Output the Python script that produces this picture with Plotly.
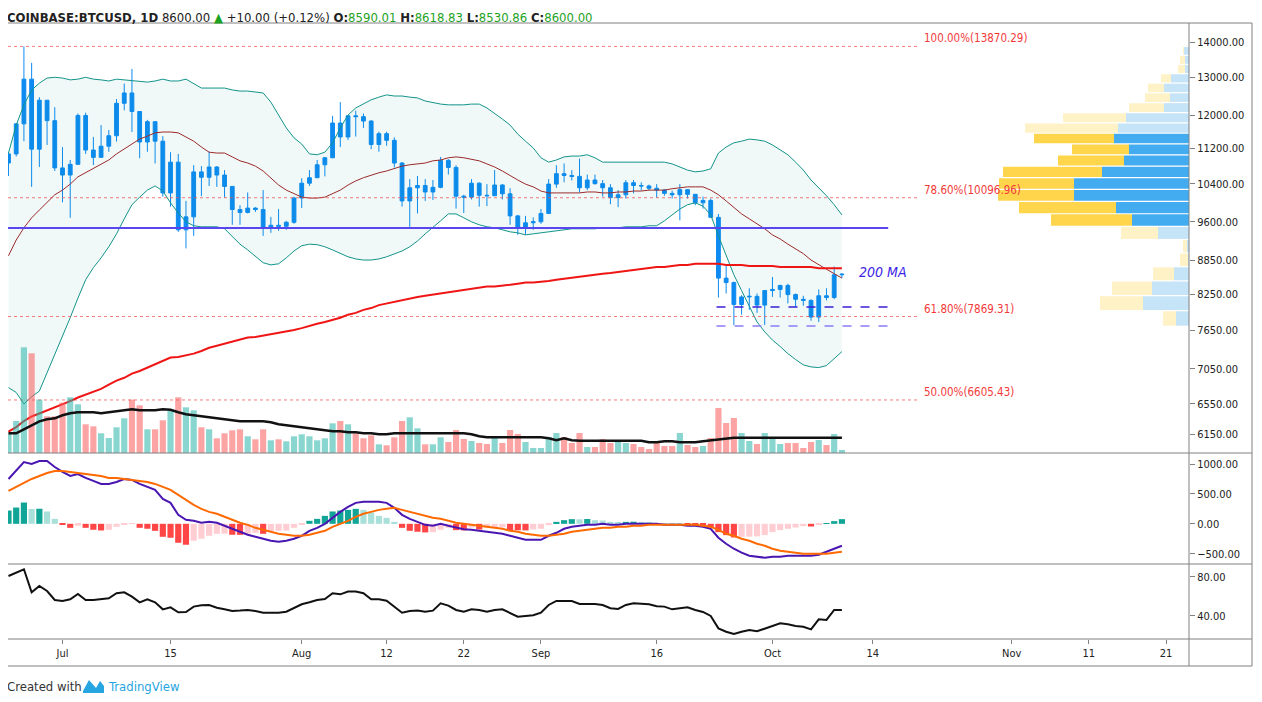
import numpy as np
import pandas as pd
import plotly.graph_objects as go

# ---- daily candles (COINBASE:BTCUSD, 1D) ----
first_day = "2019-06-24"
opens = [10860, 11070, 11790, 12950, 11180, 12390, 11870, 10750, 10590, 10830,
         12000, 11160, 10990, 11250, 11500, 12310, 12580, 12100, 11350, 11845,
         11370, 10200, 10880, 9440, 9700, 10660, 10540, 10770, 10590, 10340,
         9850, 9790, 9880, 9850, 9490, 9530, 9510, 9590, 10090, 10410,
         10530, 10820, 10980, 11810, 11470, 11990, 11970, 11860, 11290, 11550,
         11390, 10860, 10030, 10310, 10360, 10220, 10320, 10920, 10760, 10130,
         10110, 10410, 10150, 10140, 10370, 10180, 9720, 9490, 9580, 9600,
         9770, 10390, 10620, 10580, 10560, 10310, 10480, 10400, 10310, 10100,
         10160, 10420, 10360, 10350, 10300, 10260, 10190, 10160, 10270, 10170,
         9990, 10040, 9690, 8530, 8450, 8070, 8200, 8210, 8060, 8310,
         8330, 8400, 8240, 8160, 8140, 7860, 8220, 8190, 8590.01]
highs = [11110, 11810, 13870, 13400, 12470, 12390, 12210, 11230, 10930, 12050,
         12070, 11470, 11760, 11640, 12420, 12830, 13230, 12110, 11890, 11845,
         11490, 11110, 11070, 10030, 10810, 10790, 11120, 10790, 10700, 10350,
         9940, 10210, 9900, 10260, 9700, 9860, 9620, 10120, 10520, 10700,
         10930, 11000, 11990, 12340, 12010, 12120, 12050, 11880, 11600, 11600,
         11460, 10880, 10500, 10570, 10500, 10480, 11000, 10950, 10810, 10160,
         10500, 10430, 10390, 10700, 10390, 10300, 9740, 9720, 9690, 9860,
         10500, 10810, 10850, 10700, 10960, 10600, 10600, 10480, 10390, 10260,
         10480, 10480, 10430, 10380, 10390, 10280, 10250, 10390, 10280, 10170,
         10120, 10080, 9760, 8750, 8470, 8230, 8350, 8260, 8320, 8550,
         8410, 8430, 8260, 8220, 8160, 8330, 8350, 8740, 8618.83]
lows = [10570, 11010, 11370, 10330, 10770, 11280, 10680, 10000, 9680, 10830,
        11070, 10815, 10990, 11120, 11360, 12130, 11590, 10970, 11120, 10850,
        10120, 9910, 9400, 9080, 9320, 10130, 10350, 10330, 10100, 9540,
        9540, 9770, 9800, 9320, 9380, 9420, 9440, 9560, 9880, 10350,
        10540, 10560, 10980, 11230, 11400, 11480, 11690, 11180, 11120, 11260,
        10760, 9910, 9500, 9770, 10030, 10050, 10300, 10600, 9870, 9780,
        10060, 9910, 9920, 10140, 10060, 9540, 9340, 9340, 9440, 9560,
        9760, 10310, 10430, 10470, 10210, 10260, 10380, 10120, 9960, 9900,
        10080, 10190, 10250, 10260, 10100, 10140, 10080, 9630, 10080, 9940,
        9870, 9680, 8190, 8260, 7730, 7900, 7980, 7930, 7730, 8200,
        8190, 8090, 8030, 8050, 7800, 7780, 8140, 8160, 8530.86]
closes = [11070, 11790, 12950, 11180, 12390, 11870, 10750, 10590, 10830, 12000,
          11160, 10990, 11250, 11500, 12310, 12580, 12100, 11350, 11845, 11370,
          10200, 10880, 9440, 9700, 10660, 10540, 10770, 10590, 10340, 9850,
          9790, 9880, 9850, 9490, 9530, 9510, 9590, 10090, 10410, 10530,
          10820, 10980, 11810, 11470, 11990, 11970, 11860, 11290, 11550, 11390,
          10860, 10030, 10310, 10360, 10220, 10320, 10920, 10760, 10130, 10110,
          10410, 10150, 10140, 10370, 10180, 9720, 9490, 9580, 9600, 9770,
          10390, 10620, 10580, 10560, 10310, 10480, 10400, 10310, 10100, 10160,
          10420, 10360, 10350, 10300, 10260, 10190, 10160, 10270, 10170, 9990,
          10040, 9690, 8530, 8450, 8070, 8200, 8210, 8060, 8310, 8330,
          8400, 8240, 8160, 8140, 7860, 8220, 8190, 8590, 8600.00]
volumes = [19400, 32000, 105700, 99700, 53400, 36700, 36700, 50400, 55700, 48700,
           28700, 26700, 19700, 15000, 25700, 34700, 53400, 47700, 23700, 23700,
           32700, 42700, 55700, 45700, 42700, 25700, 23700, 14700, 19700, 22700,
           23700, 16700, 13700, 23700, 12700, 13700, 11700, 16700, 18700, 16700,
           12700, 14700, 29700, 32000, 28700, 19700, 14700, 17700, 8700, 7700,
           15700, 32000, 35700, 24700, 8700, 8700, 15700, 11000, 23000, 14000,
           12000, 10000, 9000, 17000, 10000, 23000, 19000, 11000, 5000, 5000,
           16000, 20000, 16000, 10000, 20000, 6000, 6000, 14000, 10000, 13000,
           10000, 9000, 6000, 4000, 11000, 7000, 7000, 20000, 8000, 6000,
           7000, 15000, 45000, 30000, 35000, 20000, 12000, 9000, 20000, 16000,
           9000, 10000, 10000, 5000, 11000, 13000, 8000, 19000, 3000]
volume_ma = [19700, 19700, 23700, 27700, 31700, 33700, 34700, 37700, 39700, 40700,
             40700, 40700, 39700, 40700, 41700, 42700, 43700, 42700, 42700, 42700,
             43700, 43200, 40700, 38700, 37700, 36700, 35700, 34700, 33700, 32700,
             31700, 31700, 31700, 31700, 30700, 28700, 27700, 26700, 25700, 24700,
             23700, 22700, 21700, 21700, 20700, 20700, 19700, 19700, 18700, 18700,
             19700, 19700, 19700, 19700, 19700, 19700, 19700, 19700, 19700, 19700,
             18700, 16700, 15700, 15700, 15700, 15700, 15700, 15700, 15700, 15700,
             14700, 12700, 14700, 12700, 12200, 12200, 12200, 12200, 12200, 12200,
             12200, 12200, 12200, 10700, 10700, 11700, 11700, 10700, 10700, 10700,
             11700, 12700, 13700, 14700, 15200, 15200, 15200, 15200, 15200, 15200,
             15200, 15200, 15200, 15200, 15200, 15200, 15200, 15200, 15200]

# ---- indicators ----
bb_upper = [11090, 11760, 12270, 12660, 12840, 12980, 13000, 12980, 12930, 12950,
            13000, 12950, 12930, 12900, 12950, 12930, 12900, 12870, 12870, 12900,
            12950, 12900, 12900, 12950, 12820, 12710, 12710, 12710, 12710, 12660,
            12630, 12630, 12600, 12580, 12340, 12010, 11690, 11450, 11300, 11070,
            11050, 11110, 11330, 11690, 12010, 12190, 12290, 12400, 12470, 12530,
            12500, 12500, 12470, 12450, 12370, 12320, 12290, 12270, 12270, 12270,
            12290, 12290, 12190, 12060, 11910, 11760, 11540, 11370, 11210, 10980,
            10880, 10930, 11000, 11020, 11020, 11050, 10980, 10880, 10880, 10880,
            10880, 10880, 10880, 10880, 10880, 10880, 10840, 10770, 10700, 10660,
            10680, 10730, 11090, 11230, 11330, 11370, 11420, 11400, 11370, 11280,
            11160, 11050, 10880, 10700, 10480, 10310, 10140, 9950, 9740]
bb_basis = [8940, 9240, 9480, 9680, 9840, 10010, 10160, 10260, 10390, 10550,
            10640, 10730, 10820, 10930, 11070, 11180, 11300, 11420, 11490, 11570,
            11590, 11590, 11570, 11470, 11370, 11230, 11110, 11090, 11090, 11000,
            10910, 10860, 10790, 10680, 10530, 10370, 10260, 10180, 10110, 10090,
            10090, 10110, 10180, 10260, 10370, 10460, 10530, 10590, 10640, 10680,
            10730, 10790, 10820, 10840, 10860, 10910, 10930, 10980, 11000, 10980,
            10950, 10910, 10840, 10770, 10680, 10570, 10480, 10390, 10330, 10240,
            10200, 10200, 10200, 10200, 10200, 10220, 10220, 10200, 10200, 10220,
            10220, 10240, 10240, 10260, 10260, 10260, 10290, 10310, 10330, 10330,
            10330, 10260, 10160, 10030, 9900, 9760, 9660, 9560, 9460, 9340,
            9260, 9160, 9070, 8980, 8860, 8770, 8690, 8610, 8530]
bb_lower = [6780, 6710, 6550, 6650, 6730, 6990, 7250, 7540, 7850, 8180,
            8500, 8720, 8900, 9110, 9360, 9660, 9950, 10110, 10260, 10350,
            10240, 9990, 9780, 9600, 9520, 9500, 9500, 9500, 9460, 9300,
            9160, 9050, 8920, 8810, 8770, 8790, 8900, 9030, 9130, 9160,
            9150, 9110, 9050, 8980, 8920, 8880, 8860, 8860, 8880, 8920,
            8980, 9030, 9110, 9220, 9360, 9480, 9620, 9760, 9760, 9680,
            9600, 9540, 9500, 9480, 9440, 9400, 9380, 9340, 9360, 9380,
            9400, 9420, 9440, 9460, 9460, 9460, 9460, 9480, 9480, 9480,
            9500, 9500, 9500, 9520, 9520, 9620, 9740, 9860, 9950, 9990,
            9920, 9740, 9320, 8940, 8590, 8310, 8030, 7780, 7620, 7490,
            7390, 7280, 7190, 7110, 7080, 7070, 7100, 7200, 7310]
ma200 = [6180, 6240, 6320, 6380, 6420, 6460, 6500, 6550, 6590, 6640,
         6680, 6720, 6760, 6820, 6880, 6920, 6980, 7020, 7070, 7130,
         7170, 7220, 7230, 7250, 7280, 7320, 7370, 7400, 7430, 7460,
         7490, 7530, 7540, 7560, 7590, 7610, 7620, 7650, 7680, 7720,
         7750, 7780, 7810, 7850, 7900, 7930, 7980, 8010, 8060, 8090,
         8120, 8150, 8170, 8200, 8220, 8240, 8270, 8290, 8310, 8320,
         8340, 8360, 8380, 8380, 8390, 8410, 8430, 8450, 8450, 8460,
         8480, 8500, 8520, 8530, 8550, 8570, 8590, 8610, 8620, 8640,
         8660, 8680, 8700, 8710, 8730, 8730, 8750, 8770, 8770, 8790,
         8790, 8790, 8790, 8770, 8770, 8770, 8750, 8750, 8750, 8750,
         8730, 8730, 8730, 8730, 8730, 8710, 8710, 8710, 8710]
macd_line = [750, 883, 1033, 1000, 1050, 1050, 950, 867, 800, 833,
             767, 717, 667, 667, 700, 750, 733, 667, 617, 567,
             417, 350, 150, 67, 50, 17, 33, 17, -33, -83,
             -133, -183, -217, -250, -283, -300, -283, -250, -200, -117,
             -67, 0, 100, 200, 283, 350, 367, 367, 367, 350,
             267, 150, 83, 33, -17, -33, 0, -33, -67, -92,
             -100, -117, -133, -150, -167, -200, -233, -267, -267, -267,
             -200, -150, -83, -50, -33, -17, -17, 0, -17, -17,
             0, 0, 0, 0, 0, -17, -17, -17, -33, -33,
             -50, -83, -233, -333, -417, -483, -533, -550, -567, -550,
             -550, -533, -533, -533, -533, -517, -467, -417, -367]
macd_signal = [550, 617, 683, 750, 800, 850, 883, 883, 867, 850,
               833, 817, 800, 767, 767, 750, 733, 717, 700, 667,
               617, 567, 483, 400, 317, 250, 200, 167, 117, 67,
               17, -17, -67, -100, -133, -167, -183, -200, -200, -183,
               -150, -117, -50, 0, 50, 117, 167, 200, 233, 250,
               267, 233, 200, 167, 133, 100, 83, 50, 17, 0,
               -17, -33, -50, -67, -83, -117, -133, -167, -183, -200,
               -200, -183, -167, -133, -117, -100, -83, -67, -67, -50,
               -50, -33, -33, -17, -17, -17, -17, -17, -17, -17,
               -33, -50, -100, -167, -200, -250, -283, -333, -367, -417,
               -450, -467, -483, -500, -500, -500, -500, -483, -467]
macd_hist = [222, 272, 356, 248, 252, 206, 83, -17, -67, -33,
             -67, -100, -111, -100, -50, -5, -3, -67, -83, -117,
             -217, -233, -317, -350, -283, -250, -200, -167, -165, -183,
             -185, -167, -150, -167, -117, -115, -112, -67, -10, 50,
             83, 133, 206, 222, 233, 250, 233, 189, 133, 100,
             33, -67, -117, -133, -144, -140, -100, -67, -106, -110,
             -61, -95, -61, -60, -58, -106, -108, -110, -95, -83,
             -22, 33, 61, 78, 75, 80, 61, 55, 33, 17,
             33, 35, 28, 22, 5, 3, 2, 1, -2, -11,
             -22, -61, -139, -189, -228, -217, -215, -210, -189, -139,
             -106, -83, -61, -39, -45, -22, 10, 45, 78]
rsi = [81.0, 84.4, 87.9, 64.3, 70.8, 65.6, 56.4, 55.4, 57.1, 62.6,
       56.4, 56.4, 57.1, 58.1, 63.3, 64.3, 59.8, 54.0, 57.1, 54.0,
       46.8, 48.9, 43.8, 44.1, 49.6, 50.9, 51.3, 48.5, 46.8, 45.1,
       45.5, 46.2, 45.1, 43.4, 43.4, 43.4, 44.4, 48.5, 52.0, 54.0,
       56.4, 57.4, 63.3, 62.2, 65.0, 65.0, 63.3, 57.1, 57.1, 55.7,
       49.6, 43.4, 45.1, 45.5, 44.4, 45.5, 53.0, 50.6, 46.2, 44.4,
       46.8, 46.2, 44.4, 46.2, 46.8, 42.7, 39.3, 40.0, 40.7, 43.4,
       51.3, 55.4, 55.7, 55.4, 52.3, 52.3, 52.3, 51.3, 47.9, 47.2,
       51.3, 53.0, 52.3, 52.0, 49.9, 49.6, 46.8, 47.9, 48.9, 46.2,
       44.1, 40.0, 27.3, 23.9, 21.5, 23.9, 25.6, 24.3, 27.3, 30.1,
       32.5, 31.5, 29.7, 29.0, 26.3, 36.6, 35.9, 46.2, 46.2]

# ---- visible-range volume profile: 24 rows, bottom to top ----
profile_low = 7710
profile_high = 13870
profile_up = [13, 46, 37, 15, 1, 2, 31, 57, 73, 115, 115, 87, 65, 60, 75, 71, 63, 25, 19, 25, 18, 4, 4, 5]
profile_down = [13, 43, 40, 21, 8, 4, 37, 81, 97, 76, 75, 99, 66, 57, 80, 93, 63, 35, 25, 16, 10, 7, 5, 1]
value_area_rows = range(7, 15)

# ---- drawings ----
fib_levels = [13870.29, 10096.96, 7869.31, 6605.43]
fib_names = ["100.00%", "78.60%", "61.80%", "50.00%"]
fib_end = "2019-10-20"
support_level = 9476
support_end = "2019-10-16"
range_levels = [8029, 7716]
range_start = "2019-09-23 18:00"
ma_label_price = 8640
ma_label_day = "2019-10-12"

# ---- axes ----
x_start, x_end = "2019-06-23 22:30", "2019-11-23 23:30"
price_ticks = [14000, 13000, 12000, 11200, 10400, 9600, 8850, 8250, 7650, 7050, 6550, 6150]
macd_ticks = [1000, 500, 0, -500]
rsi_ticks = [80, 40]
date_ticks = ["2019-07-01", "2019-07-15", "2019-08-01", "2019-08-12", "2019-08-22", "2019-09-01",
              "2019-09-16", "2019-10-01", "2019-10-14", "2019-11-01", "2019-11-11", "2019-11-21"]
date_tick_text = ["Jul", "15", "Aug", "12", "22", "Sep", "16", "Oct", "14", "Nov", "11", "21"]

dates = pd.date_range(first_day, periods=len(closes), freq="D")

FONT = "DejaVu Sans Condensed, Liberation Sans, sans-serif"
CANDLE = "#0D8BF2"
GRID = "#808080"

# the page adds an 8px body margin, so the figure is drawn 8px smaller
PAGE_OFF = 8
FIG_W, FIG_H = 1262 - 2 * PAGE_OFF, 702 - 2 * PAGE_OFF
PLOT_L, PLOT_R, PLOT_T, PLOT_B = 8, 1189, 23, 639   # page pixels


def px(x):
    return (x - PLOT_L) / (PLOT_R - PLOT_L)


def py(y):
    return (PLOT_B - y) / (PLOT_B - PLOT_T)


price_lo, price_hi = 3.77157, 4.16344

fig = go.Figure()

# Bollinger bands
fig.add_trace(go.Scatter(x=dates, y=bb_upper, mode="lines", line=dict(color="#12948A", width=1)))
fig.add_trace(go.Scatter(x=dates, y=bb_lower, mode="lines", line=dict(color="#12948A", width=1),
                         fill="tonexty", fillcolor="rgba(0,137,123,0.055)"))
fig.add_trace(go.Scatter(x=dates, y=bb_basis, mode="lines", line=dict(color="#9B2A2A", width=1)))

# fib levels
for lvl in fib_levels:
    fig.add_trace(go.Scatter(x=[x_start, fib_end], y=[lvl, lvl], mode="lines",
                             line=dict(color="rgba(240,80,80,0.75)", width=1, dash="dot")))

# support line and range lines
fig.add_trace(go.Scatter(x=[x_start, support_end], y=[support_level, support_level], mode="lines",
                         line=dict(color="#5A46EE", width=2)))
range_colors = ["#3A1FD6", "#8B7CF6"]
for lvl, col in zip(range_levels, range_colors):
    fig.add_trace(go.Scatter(x=[range_start, support_end], y=[lvl, lvl], mode="lines",
                             line=dict(color=col, width=1.5, dash="dash")))

# 200 MA
fig.add_trace(go.Scatter(x=dates, y=ma200, mode="lines", line=dict(color="#F01515", width=2)))

# candles
fig.add_trace(go.Candlestick(
    x=dates, open=opens, high=highs, low=lows, close=closes,
    increasing=dict(line=dict(color=CANDLE, width=1), fillcolor=CANDLE),
    decreasing=dict(line=dict(color=CANDLE, width=1), fillcolor=CANDLE),
    whiskerwidth=0, hoverinfo="skip"))

# volume
vol_colors = ["rgba(38,180,168,0.55)" if c >= o else "rgba(250,90,90,0.55)"
              for o, c in zip(opens, closes)]
fig.add_trace(go.Bar(x=dates, y=volumes, marker=dict(color=vol_colors, line=dict(width=0)),
                     width=86400000 * 0.8, yaxis="y2"))
fig.add_trace(go.Scatter(x=dates, y=volume_ma, mode="lines", line=dict(color="#111111", width=2.5),
                         yaxis="y2"))

# volume profile
edges = np.linspace(profile_low, profile_high, len(profile_up) + 1)
lo_log, hi_log = np.log10(edges[:-1]), np.log10(edges[1:])
centers = (lo_log + hi_log) / 2
heights = (hi_log - lo_log) - 1.2 / 1097.5
up_cols = ["#43ABF0" if i in value_area_rows else "#C6E4F8" for i in range(len(profile_up))]
dn_cols = ["#FFD54C" if i in value_area_rows else "#FFF2C7" for i in range(len(profile_up))]
fig.add_trace(go.Bar(x=profile_up, y=centers, base=0, width=heights, orientation="h",
                     marker=dict(color=up_cols, line=dict(width=0)), xaxis="x2", yaxis="y3"))
fig.add_trace(go.Bar(x=profile_down, y=centers, base=profile_up, width=heights, orientation="h",
                     marker=dict(color=dn_cols, line=dict(width=0)), xaxis="x2", yaxis="y3"))

# MACD
hist_colors = []
for i, v in enumerate(macd_hist):
    prev = macd_hist[i - 1] if i > 0 else 0
    if v >= 0:
        hist_colors.append("#10A596" if v >= prev else "#A9E0DA")
    else:
        hist_colors.append("#FF4545" if v < prev else "#FFCDD2")
fig.add_trace(go.Bar(x=dates, y=macd_hist, marker=dict(color=hist_colors, line=dict(width=0)),
                     width=86400000 * 0.8, yaxis="y4"))
fig.add_trace(go.Scatter(x=dates, y=macd_line, mode="lines", line=dict(color="#4A16B2", width=2),
                         yaxis="y4"))
fig.add_trace(go.Scatter(x=dates, y=macd_signal, mode="lines", line=dict(color="#FF6A00", width=2),
                         yaxis="y4"))

# RSI
fig.add_trace(go.Scatter(x=dates, y=rsi, mode="lines", line=dict(color="#111111", width=2),
                         yaxis="y5"))

axis_font = dict(family=FONT, size=11, color="#222222")
right_axis = dict(side="right", ticks="outside", ticklen=5, tickcolor=GRID, showgrid=False,
                  zeroline=False, showline=False, tickfont=axis_font, anchor="x", tickformat=".2f")

annotations = []
for lvl, name in zip(fib_levels, fib_names):
    annotations.append(dict(x=fib_end, y=np.log10(lvl), xref="x", yref="y", xanchor="left",
                            yanchor="bottom", xshift=3, yshift=-1, showarrow=False,
                            text=f"{name}({lvl:.2f})", font=dict(family=FONT, size=11.5, color="#F23A3A")))
annotations.append(dict(x=ma_label_day, y=np.log10(ma_label_price), xref="x", yref="y",
                        xanchor="left", yanchor="middle", showarrow=False, text="<i>200 MA</i>",
                        font=dict(family=FONT, size=14, color="#3C23E6")))

green = "#1FA21F"
change = closes[-1] - closes[-2]
header = (f"<b>COINBASE:BTCUSD, 1D</b> {closes[-1]:.2f} <span style='color:{green}'>▲</span> "
          f"+{change:.2f} (+{change / closes[-2] * 100:.2f}%) "
          f"<b>O:</b><span style='color:{green}'>{opens[-1]:.2f}</span> "
          f"<b>H:</b><span style='color:{green}'>{highs[-1]:.2f}</span> "
          f"<b>L:</b><span style='color:{green}'>{lows[-1]:.2f}</span> "
          f"<b>C:</b><span style='color:{green}'>{closes[-1]:.2f}</span>")
# the header sits as high as the page margin allows
annotations.append(dict(x=px(5), y=py(PAGE_OFF), xref="paper", yref="paper", xanchor="left", yanchor="top",
                        showarrow=False, text=header, font=dict(family=FONT, size=13, color="#222222")))
annotations.append(dict(x=px(5), y=py(686), xref="paper", yref="paper", xanchor="left", yanchor="middle",
                        showarrow=False, text="Created with",
                        font=dict(family=FONT, size=13, color="#333333")))
annotations.append(dict(x=px(106), y=py(686), xref="paper", yref="paper", xanchor="left", yanchor="middle",
                        showarrow=False, text="TradingView",
                        font=dict(family=FONT, size=13, color="#27A5E0")))

line_style = dict(color=GRID, width=1)
shapes = [
    dict(type="line", xref="paper", yref="paper", x0=px(0), x1=px(1252), y0=1, y1=1, line=line_style),
    dict(type="line", xref="paper", yref="paper", x0=px(7), x1=px(7), y0=py(666), y1=1, line=line_style),
    dict(type="line", xref="paper", yref="paper", x0=1, x1=1, y0=py(666), y1=1, line=line_style),
    dict(type="line", xref="paper", yref="paper", x0=px(1252), x1=px(1252), y0=py(666), y1=1, line=line_style),
    dict(type="line", xref="paper", yref="paper", x0=px(7), x1=px(1252), y0=py(666), y1=py(666), line=line_style),
    dict(type="line", xref="paper", yref="paper", x0=px(7), x1=px(1252), y0=py(453), y1=py(453), line=line_style),
    dict(type="line", xref="paper", yref="paper", x0=px(7), x1=px(1252), y0=py(564), y1=py(564), line=line_style),
    dict(type="line", xref="paper", yref="paper", x0=px(7), x1=px(1252), y0=py(639), y1=py(639), line=line_style),
    # small TradingView logo
    dict(type="path", xref="paper", yref="paper", fillcolor="#27A5E0", line=dict(width=0),
         path=(f"M {px(83)} {py(691)} L {px(89)} {py(680)} L {px(96)} {py(688)} "
               f"L {px(100)} {py(681)} L {px(104)} {py(686)} L {px(104)} {py(693)} L {px(83)} {py(693)} Z")),
]

fig.update_layout(
    width=FIG_W, height=FIG_H,
    margin=dict(l=PLOT_L - PAGE_OFF, r=FIG_W - (PLOT_R - PAGE_OFF), t=PLOT_T - PAGE_OFF,
                b=FIG_H - (PLOT_B - PAGE_OFF)),
    paper_bgcolor="white", plot_bgcolor="white",
    showlegend=False, hovermode=False, barmode="overlay",
    font=dict(family=FONT, size=11, color="#222222"),
    xaxis=dict(type="date", range=[x_start, x_end], domain=[0, 1], anchor="y5",
               tickvals=date_ticks, ticktext=date_tick_text, ticks="outside", ticklen=4,
               tickcolor=GRID, showgrid=False, zeroline=False, showline=False,
               tickfont=axis_font, rangeslider=dict(visible=False)),
    yaxis=dict(right_axis, type="log", domain=[py(453), 1], range=[price_lo, price_hi],
               tickvals=price_ticks),
    yaxis2=dict(overlaying="y", range=[0, 430000], visible=False, anchor="x"),
    xaxis2=dict(overlaying="x", range=[1181, 0], visible=False, anchor="y3"),
    yaxis3=dict(overlaying="y", range=[price_lo, price_hi], visible=False, anchor="x2"),
    yaxis4=dict(right_axis, domain=[py(564), py(453)], range=[-672, 1184], tickvals=macd_ticks),
    yaxis5=dict(right_axis, domain=[0, py(564)], range=[16.4, 93.3], tickvals=rsi_ticks),
    annotations=annotations,
    shapes=shapes,
)

fig.write_html("out.html")
